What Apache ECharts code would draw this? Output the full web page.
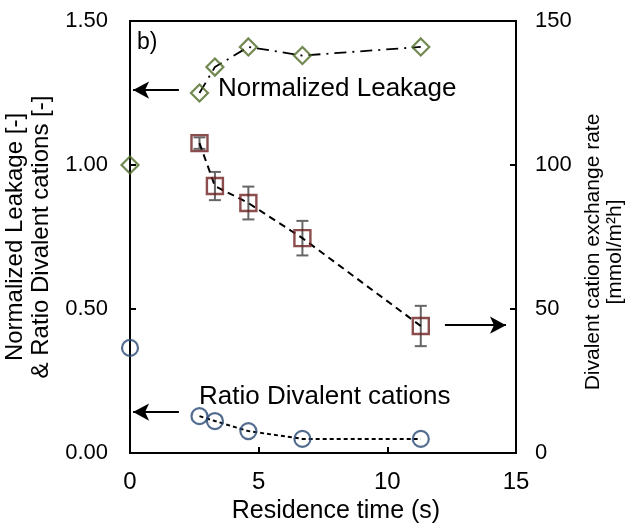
<!DOCTYPE html>
<html>
<head>
<meta charset="utf-8">
<script src="https://cdn.jsdelivr.net/npm/echarts@6/dist/echarts.min.js"></script>
<style>
  html, body { margin: 0; padding: 0; background: #fff; }
  #chart { width: 635px; height: 529px; }
</style>
</head>
<body>
<div id="chart"></div>
<script>
// residence time (s)
const timeX = [0, 2.7, 3.3, 4.6, 6.7, 11.3];
// left axis
const leakage = [1.00, 1.25, 1.34, 1.41, 1.38, 1.41];
const ratioDivalent = [0.365, 0.128, 0.111, 0.076, 0.049, 0.049];
// right axis
const exchangeX = [2.7, 3.3, 4.6, 6.7, 11.3];
const exchangeRate = [107.6, 92.7, 86.8, 74.6, 44.1];
const exchangeErr = [2, 4.9, 5.7, 6.0, 7.0];

const leftTicks = [0, 0.5, 1.0, 1.5];
const rightTicks = [0, 50, 100, 150];

const FONT = "'Liberation Sans', Arial, sans-serif";
const GREEN = '#4f6a26';
const RED = '#6e2020';
const BLUE = '#284873';

const pairs = (xs, ys) => xs.map((x, i) => [x, ys[i]]);

function arrowLine(from, to) {
  return {
    silent: true,
    symbol: ['none', 'arrow'],
    symbolSize: [13, 16],
    label: { show: false },
    lineStyle: { color: '#000', width: 2, type: 'solid' },
    data: [[{ coord: from }, { coord: to }]]
  };
}

const chart = echarts.init(document.getElementById('chart'));

chart.setOption({
  animation: false,
  textStyle: { fontFamily: FONT },
  grid: {
    left: 130,
    right: 119,
    top: 21,
    bottom: 76,
    outerBoundsMode: 'none',
    containLabel: false,
    show: true,
    borderColor: '#000',
    borderWidth: 2,
    backgroundColor: 'transparent'
  },
  xAxis: {
    type: 'value',
    min: 0,
    max: 15,
    interval: 5,
    name: 'Residence time (s)',
    nameLocation: 'middle',
    nameGap: 41,
    nameTextStyle: { fontSize: 25, color: '#000', fontFamily: FONT, padding: [0, 0, 0, 26] },
    axisLine: { lineStyle: { color: '#000', width: 2 } },
    axisTick: { inside: true, length: 6, lineStyle: { color: '#000', width: 2 } },
    axisLabel: { fontSize: 24, color: '#000', margin: 17, fontFamily: FONT },
    splitLine: { show: false }
  },
  yAxis: [
    {
      type: 'value',
      min: leftTicks[0],
      max: leftTicks[leftTicks.length - 1],
      interval: 0.5,
      name: 'Normalized Leakage [-]\n& Ratio Divalent cations [-]',
      nameLocation: 'middle',
      nameGap: 63,
      nameTextStyle: { fontSize: 24, lineHeight: 26, color: '#000', fontFamily: FONT },
      axisLine: { lineStyle: { color: '#000', width: 2 } },
      axisTick: { inside: true, length: 6, lineStyle: { color: '#000', width: 2 } },
      axisLabel: { fontSize: 22, color: '#000', margin: 22, fontFamily: FONT, formatter: v => v.toFixed(2) },
      splitLine: { show: false }
    },
    {
      type: 'value',
      position: 'right',
      min: rightTicks[0],
      max: rightTicks[rightTicks.length - 1],
      interval: 50,
      name: 'Divalent cation exchange rate\n[mmol/m²h]',
      nameLocation: 'middle',
      nameGap: 64,
      nameTextStyle: { fontSize: 21, lineHeight: 22, color: '#000', fontFamily: FONT, padding: [0, 30, 0, 0] },
      axisLine: { lineStyle: { color: '#000', width: 2 } },
      axisTick: { inside: true, length: 6, lineStyle: { color: '#000', width: 2 } },
      axisLabel: { fontSize: 22, color: '#000', margin: 19, fontFamily: FONT },
      splitLine: { show: false }
    }
  ],
  graphic: [
    { type: 'text', left: 137, top: 31, style: { text: 'b)', fontSize: 23, fontFamily: FONT, fill: '#000' } },
    { type: 'text', left: 218, top: 76, style: { text: 'Normalized Leakage', fontSize: 26, fontFamily: FONT, fill: '#000' } },
    { type: 'text', left: 199, top: 384, style: { text: 'Ratio Divalent cations', fontSize: 26, fontFamily: FONT, fill: '#000' } }
  ],
  series: [
    // leakage connecting line (dash-dot)
    {
      type: 'line',
      yAxisIndex: 0,
      data: pairs(timeX.slice(1), leakage.slice(1)),
      symbol: 'none',
      lineStyle: { color: '#000', width: 1.8, type: [12, 6, 2, 6] },
      markLine: arrowLine([1.9, 1.26], [0.12, 1.26])
    },
    // ratio connecting line
    {
      type: 'line',
      yAxisIndex: 0,
      data: pairs(timeX.slice(1), ratioDivalent.slice(1)),
      symbol: 'none',
      lineStyle: { color: '#000', width: 2, type: [4, 3] },
      markLine: arrowLine([1.9, 0.142], [0.12, 0.142])
    },
    // exchange connecting line
    {
      type: 'line',
      yAxisIndex: 1,
      data: pairs(exchangeX, exchangeRate),
      symbol: 'none',
      lineStyle: { color: '#000', width: 2, type: [7, 5] },
      markLine: arrowLine([12.24, 44.4], [14.61, 44.4])
    },
    // error bars
    {
      type: 'custom',
      yAxisIndex: 1,
      data: exchangeX.map((x, i) => [x, exchangeRate[i] - exchangeErr[i], exchangeRate[i] + exchangeErr[i]]),
      renderItem: function (params, api) {
        const lo = api.coord([api.value(0), api.value(1)]);
        const hi = api.coord([api.value(0), api.value(2)]);
        const w = 6;
        const style = { stroke: '#666', lineWidth: 2 };
        return {
          type: 'group',
          children: [
            { type: 'line', shape: { x1: lo[0], y1: lo[1], x2: hi[0], y2: hi[1] }, style },
            { type: 'line', shape: { x1: lo[0] - w, y1: lo[1], x2: lo[0] + w, y2: lo[1] }, style },
            { type: 'line', shape: { x1: hi[0] - w, y1: hi[1], x2: hi[0] + w, y2: hi[1] }, style }
          ]
        };
      },
      z: 3
    },
    // markers
    {
      type: 'scatter',
      yAxisIndex: 0,
      data: pairs(timeX, leakage),
      symbol: 'diamond',
      symbolSize: 17,
      itemStyle: { color: 'rgba(0,0,0,0)', borderColor: GREEN, borderWidth: 2.2 },
      z: 4
    },
    {
      type: 'scatter',
      yAxisIndex: 0,
      data: pairs(timeX, ratioDivalent),
      symbol: 'circle',
      symbolSize: 16,
      itemStyle: { color: 'rgba(0,0,0,0)', borderColor: BLUE, borderWidth: 2.2 },
      z: 4
    },
    {
      type: 'scatter',
      yAxisIndex: 1,
      data: pairs(exchangeX, exchangeRate),
      symbol: 'rect',
      symbolSize: 16,
      itemStyle: { color: 'rgba(0,0,0,0)', borderColor: RED, borderWidth: 2.4 },
      z: 4
    }
  ]
});
</script>
</body>
</html>
